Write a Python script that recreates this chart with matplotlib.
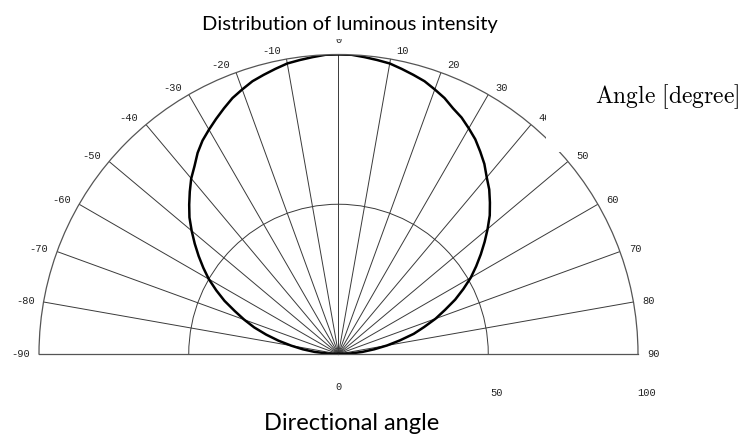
import numpy as np
import matplotlib.pyplot as plt
from matplotlib.patches import Rectangle

plt.rcParams['mathtext.fontset'] = 'cm'

# grid angles (degrees) and their labels
grid_angles = list(range(-90, 91, 10))
grid_labels = [str(a) for a in grid_angles]

# radial grid
r_grid = [50]
r_ticks = [0, 50, 100]
r_tick_labels = ['0', '50', '100']

# luminous intensity (every 2.5 degrees)
curve_angle = np.arange(-90, 90.1, 2.5)
curve_value = [0, 3.5, 8, 12, 16, 20.5, 25, 29.5, 33.5, 37.5, 42, 46, 50,
               53.5, 57, 60.5, 64, 67.5, 70.5, 73.5, 76.5, 79, 82, 84.5, 86.5,
               88.5, 90.5, 92.5, 94, 95.5, 96.5, 97.5, 98.5, 99, 99.5, 100,
               100,
               100, 99.5, 99, 98.5, 97.5, 96.5, 95.5, 94, 92.5, 90.5, 89, 87,
               85, 82.5, 80, 77, 74.5, 71.5, 68.5, 65, 61.5, 58, 54.5, 51,
               47, 43, 38.5, 34.5, 30, 26, 21, 16.5, 12, 8, 4, 0]

W, H = 741, 436
fig = plt.figure(figsize=(W / 100, H / 100), dpi=100)

# half disc: x 39..638, baseline at y=354 px (from top); polar axes keeps a square box
side = 599
top_px = 354 - side / 2 - side / 4
ax = fig.add_axes([39 / W, (H - (top_px + side)) / H, side / W, side / H], projection='polar')
ax.set_theta_zero_location('N')
ax.set_theta_direction(-1)
ax.set_thetamin(-90)
ax.set_thetamax(90)
ax.set_rlim(0, 100)

ax.set_thetagrids(grid_angles, [''] * len(grid_angles))
ax.set_rgrids(r_grid, labels=[''])
ax.grid(True, color='#3a3a3a', lw=0.7)
ax.tick_params(axis='x', direction='out', length=4, width=0.8, colors='#333333')
for s in ax.spines.values():
    s.set_color('#555555')
    s.set_linewidth(0.9)

ax.plot(np.deg2rad(curve_angle), curve_value, color='black', lw=1.8)

# angle labels just outside the tick ends
pt = 0.72
for a, lab in zip(grid_angles, grid_labels):
    t = np.deg2rad(a)
    ux, uy = np.sin(t), np.cos(t)
    if a == 0:
        ha, va, dx, dy = 'center', 'bottom', 0, 10
    else:
        ha = 'left' if a > 0 else 'right'
        va = 'center'
        dx = ux * 4 + np.sign(a) * 5
        dy = uy * 4 + 4 * uy
    ax.annotate(lab, xy=(t, 100), xytext=(dx * pt, dy * pt), textcoords='offset points',
                ha=ha, va=va, family='Liberation Mono', fontsize=7.5,
                color='#222222', annotation_clip=False)

# radial value labels below the baseline
for r, lab in zip(r_ticks, r_tick_labels):
    dy = -24 if r == 0 else -28
    dx = 0 if r == 0 else 6
    ax.annotate(lab, xy=(np.deg2rad(90), r), xytext=(dx, dy), textcoords='offset points',
                ha='center', va='center', family='Liberation Mono', fontsize=7.5,
                color='#222222', annotation_clip=False)

fig.text(350 / W, 1 - 30 / H, 'Distribution of luminous intensity', family='Lato',
         fontsize=14.5, ha='center', va='baseline',
         bbox=dict(facecolor='white', edgecolor='none', pad=4.5))

fig.patches.append(Rectangle((546 / W, 1 - 152 / H), (W - 546) / W, 80 / H,
                             transform=fig.transFigure, facecolor='white', edgecolor='none'))
fig.text(739 / W, 1 - 103 / H, r'$\mathrm{Angle\ [degree]}$', fontsize=17, ha='right', va='baseline')

fig.text(352 / W, 1 - 430 / H, 'Directional angle', family='Lato', fontsize=17,
         ha='center', va='baseline')

fig.savefig('out.png', dpi=100)
